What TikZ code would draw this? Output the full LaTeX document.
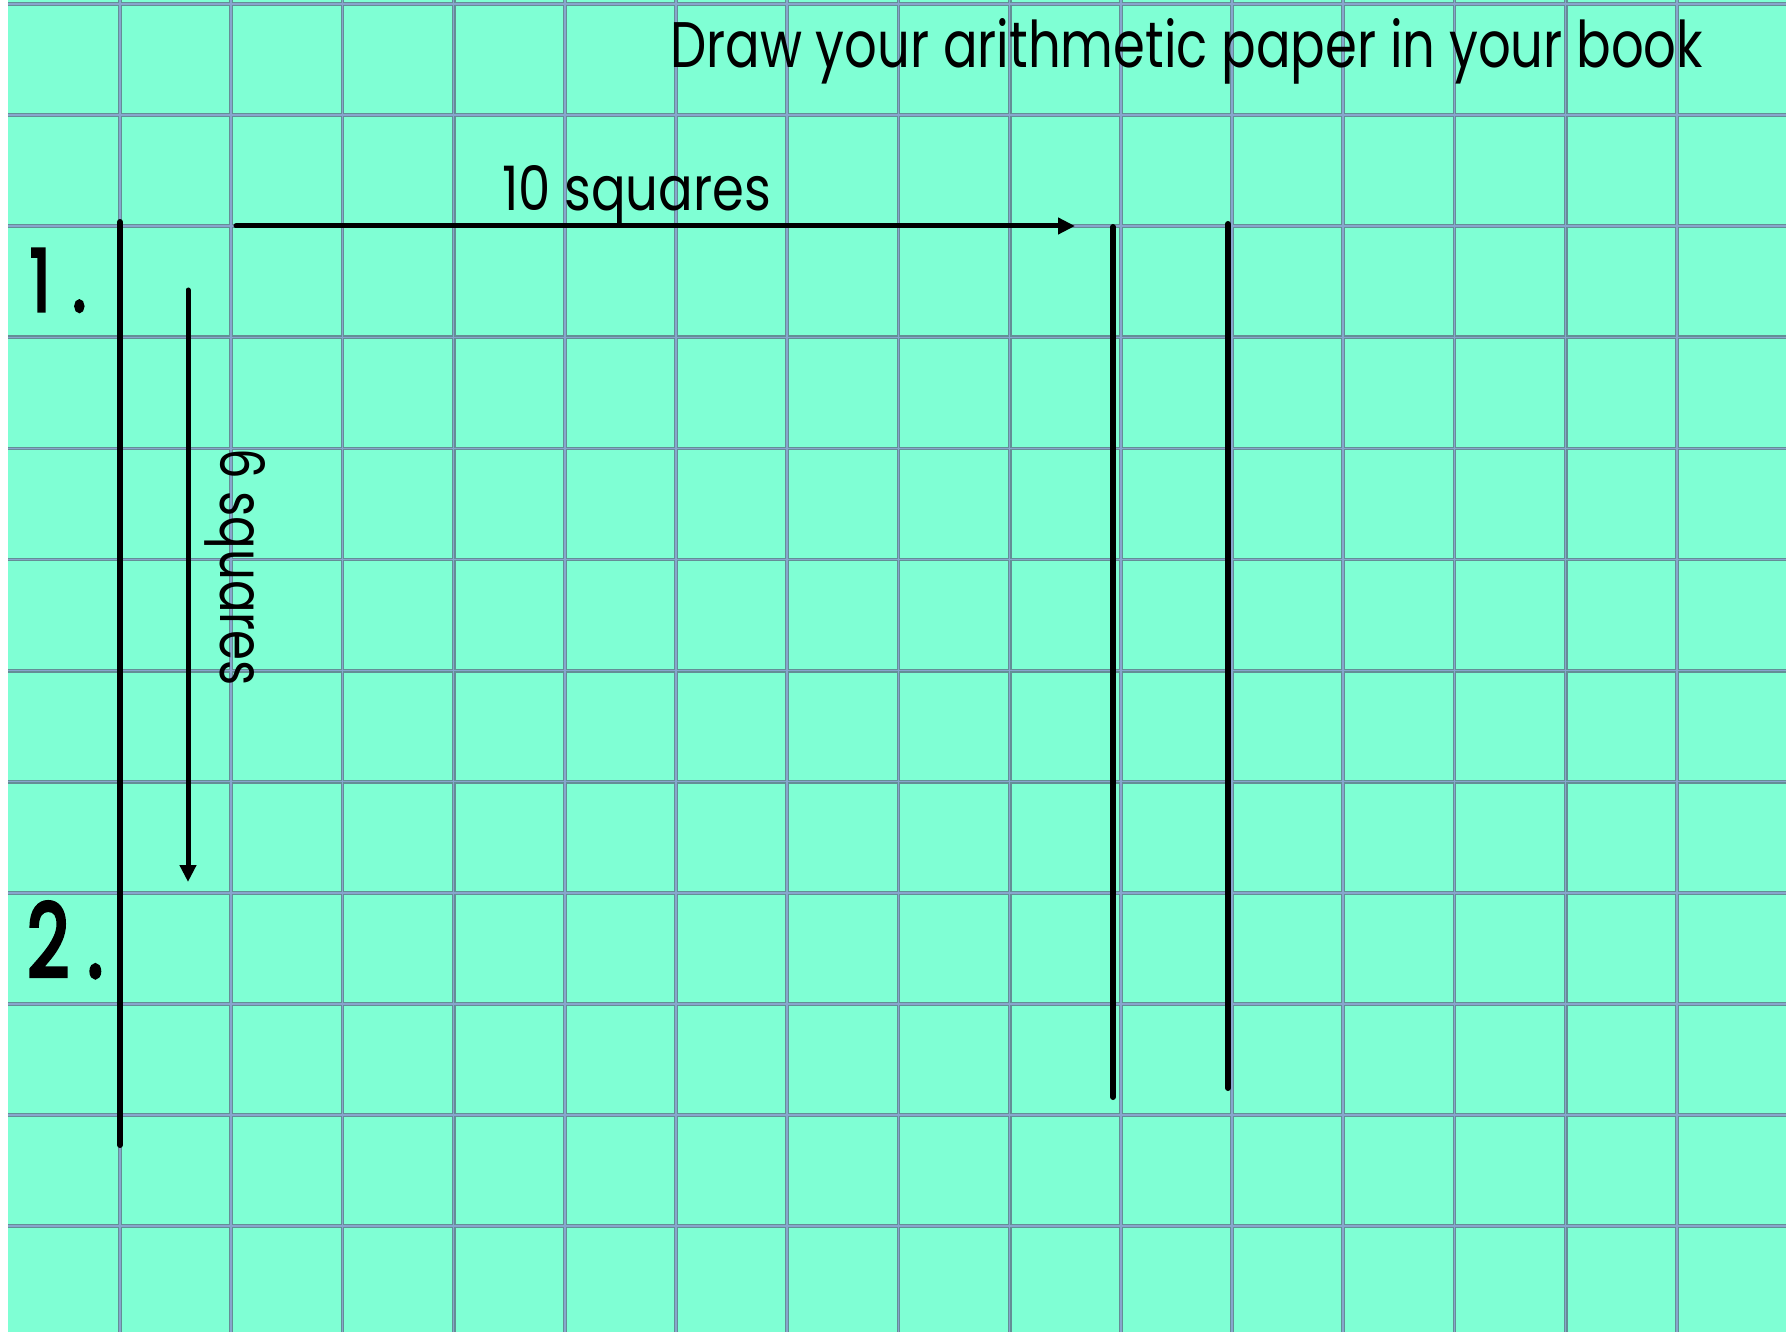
\documentclass[tikz,border=0pt]{standalone}
\usepackage{fontspec}
\setmainfont{Poppins}
\newfontfamily\handfont[FakeBold=4]{Poppins}
\usepackage{graphicx}
\usetikzlibrary{arrows.meta}
\definecolor{paper}{RGB}{127,255,212}
\definecolor{gridout}{RGB}{100,142,150}
\definecolor{gridin}{RGB}{135,165,205}
\begin{document}
\begin{tikzpicture}[x=1pt,y=-1pt,
  gridouter/.style={draw=gridout,line width=3.8pt},
  gridinner/.style={draw=gridin,line width=1.5pt},
  inkline/.style={draw=black,line width=6pt,line cap=round},
  arrowline/.style={draw=black,line width=5pt,line cap=round,-{Triangle[length=17pt,width=16pt]}},
  label/.style={anchor=base west,inner sep=0pt,outer sep=0pt,text=black}]
\useasboundingbox (0,0) rectangle (1786,1332);
\fill[white] (0,0) rectangle (1786,1332);
\fill[paper] (8,0) rectangle (1786,1332);
% grid
\foreach \k in {0,...,14} {
  \draw[gridouter] ({120+111.2*\k},0) -- ({120+111.2*\k},1332);
}
\foreach \k in {0,...,11} {
  \draw[gridouter] (8,{4+111.1*\k}) -- (1786,{4+111.1*\k});
}
\foreach \k in {0,...,14} {
  \draw[gridinner] ({120+111.2*\k},0) -- ({120+111.2*\k},1332);
}
\foreach \k in {0,...,11} {
  \draw[gridinner] (8,{4+111.1*\k}) -- (1786,{4+111.1*\k});
}
% texts
\node[label] (title) at (670,68) {\resizebox{1033pt}{49pt}{Draw your arithmetic paper in your book}};
\node[label] (ten) at (502,211) {\resizebox{269pt}{45pt}{10 squares}};
\node[label,rotate=-90] (six) at (220,448) {\resizebox{238pt}{45pt}{6 squares}};
\node[label] (one) at (30,311) {\resizebox{56pt}{62pt}{\handfont 1\hspace{0.35em}.}};
\node[label] (two) at (27,977) {\resizebox{76pt}{75pt}{\handfont 2\hspace{0.25em}.}};
% ink lines
\coordinate (mtop) at (120,222);
\coordinate (mbot) at (120,1145);
\draw[inkline] (mtop) -- (mbot);
\coordinate (hs) at (236,226);
\coordinate (he) at (1075,226);
\draw[arrowline] (hs) -- (he);
\coordinate (vs) at (188,290);
\coordinate (ve) at (188,882);
\draw[arrowline] (vs) -- (ve);
\coordinate (atop) at (1113,227);
\coordinate (abot) at (1113,1097);
\draw[inkline] (atop) -- (abot);
\coordinate (btop) at (1228,224);
\coordinate (bbot) at (1228,1088);
\draw[inkline] (btop) -- (bbot);
\end{tikzpicture}
\end{document}
